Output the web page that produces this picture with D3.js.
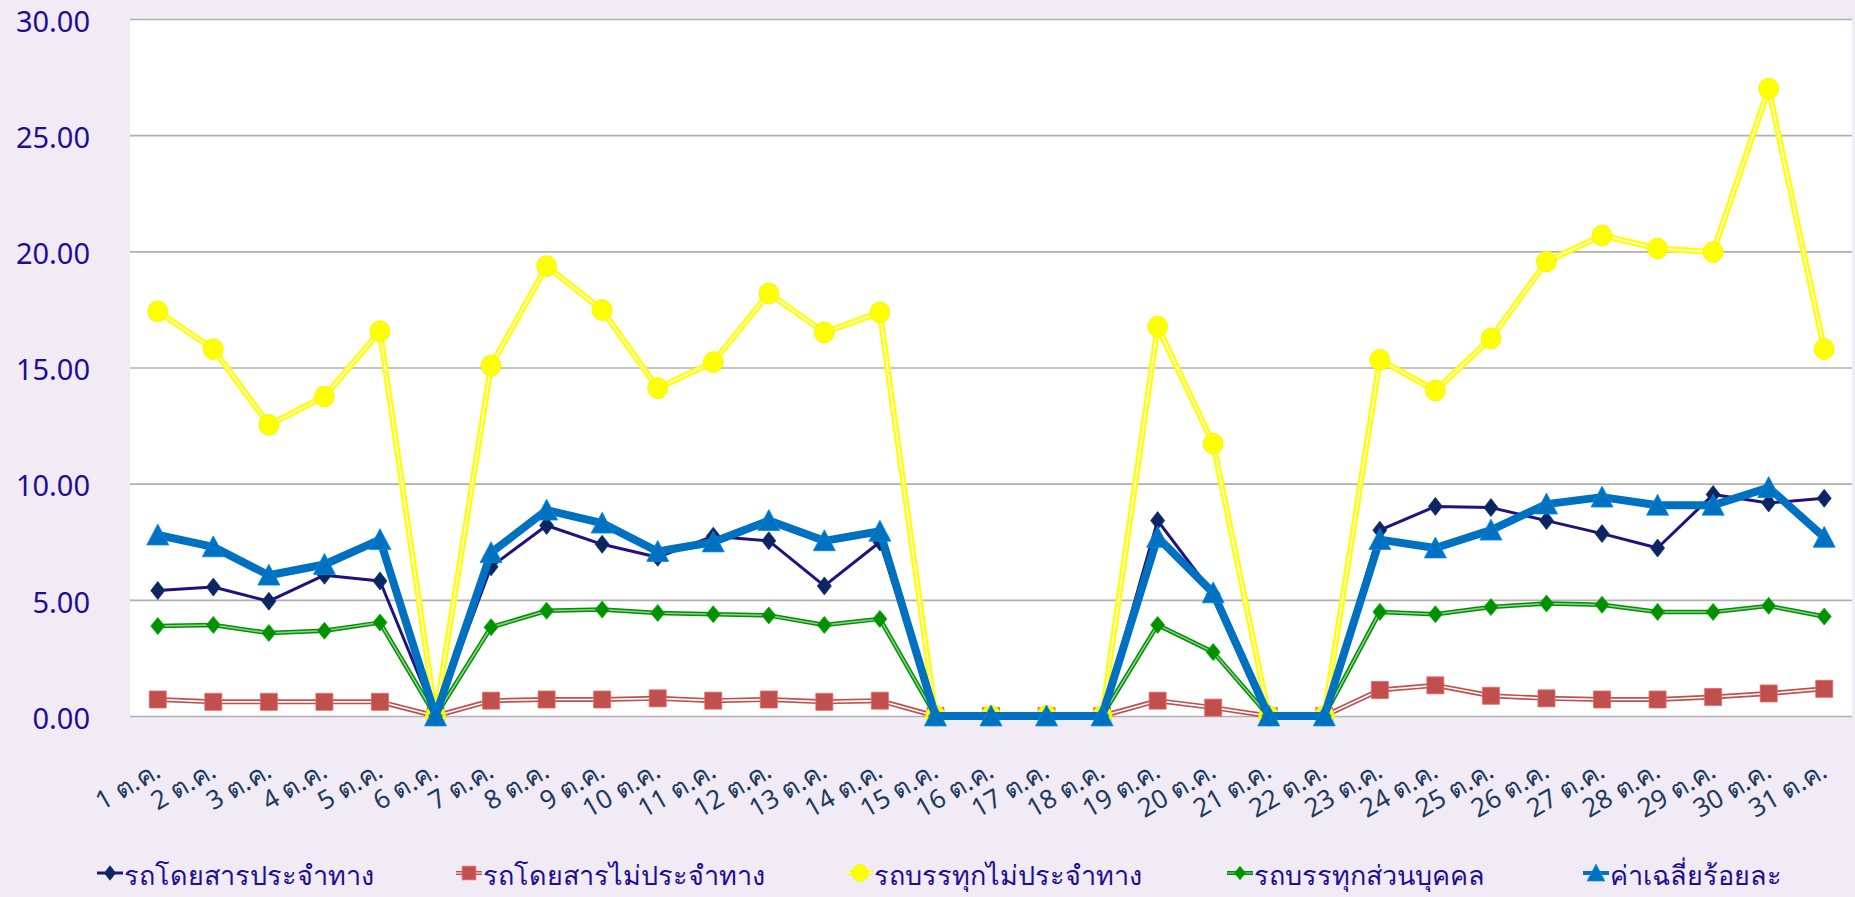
<!DOCTYPE html>
<html>
<head>
<meta charset="utf-8">
<script src="https://cdn.jsdelivr.net/npm/d3@7"></script>
<style>
  html, body { margin: 0; padding: 0; background: #f0ebf4; }
  svg { display: block; }
</style>
</head>
<body>
<svg id="chart" width="1855" height="897"></svg>
<script>
// วันที่ในเดือนตุลาคม
const days = ["1 ต.ค.","2 ต.ค.","3 ต.ค.","4 ต.ค.","5 ต.ค.","6 ต.ค.","7 ต.ค.","8 ต.ค.","9 ต.ค.","10 ต.ค.",
  "11 ต.ค.","12 ต.ค.","13 ต.ค.","14 ต.ค.","15 ต.ค.","16 ต.ค.","17 ต.ค.","18 ต.ค.","19 ต.ค.","20 ต.ค.",
  "21 ต.ค.","22 ต.ค.","23 ต.ค.","24 ต.ค.","25 ต.ค.","26 ต.ค.","27 ต.ค.","28 ต.ค.","29 ต.ค.","30 ต.ค.","31 ต.ค."];

const yTicks = [0, 5, 10, 15, 20, 25, 30];

// รถโดยสารประจำทาง
const busRoute = [5.40,5.55,4.94,6.06,5.81,0,6.42,8.20,7.39,6.83,7.74,7.54,5.60,7.49,0,0,0,0,8.41,5.25,0,0,8.00,9.02,8.97,8.41,7.85,7.23,9.53,9.17,9.37];
// รถโดยสารไม่ประจำทาง
const busCharter = [0.71,0.61,0.61,0.61,0.61,0,0.66,0.71,0.71,0.76,0.66,0.71,0.61,0.66,0,0,0,0,0.66,0.36,0,0,1.12,1.32,0.87,0.76,0.71,0.71,0.82,0.97,1.17];
// รถบรรทุกไม่ประจำทาง
const truckCharter = [17.42,15.79,12.53,13.75,16.56,0,15.08,19.36,17.47,14.11,15.23,18.19,16.51,17.37,0,0,0,0,16.76,11.72,0,0,15.33,14.01,16.25,19.56,20.68,20.12,19.97,27.00,15.79];
// รถบรรทุกส่วนบุคคล
const truckPrivate = [3.87,3.92,3.57,3.67,4.02,0,3.82,4.53,4.58,4.43,4.38,4.33,3.92,4.18,0,0,0,0,3.92,2.75,0,0,4.48,4.38,4.69,4.84,4.79,4.48,4.48,4.74,4.28];
// ค่าเฉลี่ยร้อยละ
const average = [7.79,7.28,6.06,6.52,7.59,0,7.03,8.86,8.30,7.08,7.49,8.41,7.54,7.95,0,0,0,0,7.69,5.30,0,0,7.59,7.23,8.00,9.12,9.42,9.07,9.07,9.83,7.69];

const seriesNames = ["รถโดยสารประจำทาง","รถโดยสารไม่ประจำทาง","รถบรรทุกไม่ประจำทาง","รถบรรทุกส่วนบุคคล","ค่าเฉลี่ยร้อยละ"];

const styles = [
  { values: busRoute,     line: "#22107e", width: 3,   inner: null,      innerW: 0,   marker: "diamond", fill: "#0b2660", size: [7, 9] },
  { values: busCharter,   line: "#c0504d", width: 5,   inner: "#ffffff", innerW: 1.6, marker: "square",  fill: "#c0504d", size: [8.5, 8.5] },
  { values: truckCharter, line: "#ffff00", width: 6,   inner: "#ffffff", innerW: 1.4, marker: "circle",  fill: "#ffff00", size: [10, 10.5] },
  { values: truckPrivate, line: "#009000", width: 4.5, inner: "#8fd08f", innerW: 1.5, marker: "diamond", fill: "#009000", size: [7, 8.5] },
  { values: average,      line: "#0070c0", width: 8,   inner: null,      innerW: 0,   marker: "triangle",fill: "#0070c0", size: [11, 11] }
];

const svg = d3.select("#chart");
const plot = { left: 130, right: 1852, top: 19, bottom: 716 };

svg.append("rect")
  .attr("x", plot.left).attr("y", plot.top)
  .attr("width", plot.right - plot.left).attr("height", plot.bottom - plot.top)
  .attr("fill", "#ffffff");

const x = d3.scalePoint().domain(days).range([plot.left, plot.right]).padding(0.5);
const y = d3.scaleLinear().domain([0, 30]).range([plot.bottom, plot.top]);

// เส้นกริดและป้ายแกน Y
const yAxis = svg.append("g")
  .attr("transform", `translate(${plot.left},0)`)
  .call(d3.axisLeft(y).tickValues(yTicks).tickFormat(d3.format(".2f"))
    .tickSize(-(plot.right - plot.left)).tickPadding(40));
yAxis.select(".domain").remove();
yAxis.selectAll(".tick line").attr("stroke", "#b0b0b0").attr("stroke-width", 1.6);
yAxis.selectAll(".tick text")
  .attr("fill", "#1e0f94")
  .attr("dy", "0.42em")
  .style("font-family", "'Noto Sans', 'DejaVu Sans', sans-serif")
  .style("font-size", "29px");

// ป้ายแกน X (วันที่)
const xAxis = svg.append("g")
  .attr("transform", `translate(0,${plot.bottom})`)
  .call(d3.axisBottom(x).tickSize(0).tickPadding(0));
xAxis.select(".domain").remove();
xAxis.selectAll(".tick text")
  .attr("fill", "#1f3a5f")
  .style("font-family", "'Noto Sans', 'DejaVu Sans', sans-serif")
  .style("font-size", "26px")
  .attr("text-anchor", "end")
  .attr("dy", null)
  .attr("y", 0)
  .attr("transform", "translate(4,60) rotate(-30)");

// สัญลักษณ์จุดข้อมูล
function markerPath(type, hw, hh) {
  if (type === "diamond") return `M0,${-hh}L${hw},0L0,${hh}L${-hw},0Z`;
  if (type === "square") return `M${-hw},${-hh}H${hw}V${hh}H${-hw}Z`;
  if (type === "triangle") return `M0,${-hh}L${hw},${hh * 0.9}L${-hw},${hh * 0.9}Z`;
  return null;
}

function drawMarker(g, s, cx, cy, scale) {
  const hw = s.size[0] * scale, hh = s.size[1] * scale;
  if (s.marker === "circle") {
    g.append("ellipse").attr("cx", cx).attr("cy", cy).attr("rx", hw).attr("ry", hh)
      .attr("fill", s.fill).attr("stroke", "#f2f200").attr("stroke-width", 0.8);
  } else {
    g.append("path").attr("d", markerPath(s.marker, hw, hh))
      .attr("transform", `translate(${cx},${cy})`)
      .attr("fill", s.fill).attr("stroke", d3.color(s.fill).brighter(0.6)).attr("stroke-width", 0.8);
  }
}

const lineGen = d3.line().x((d, i) => x(days[i])).y(d => y(d));

const seriesLayer = svg.append("g");
styles.forEach(s => {
  const g = seriesLayer.append("g");
  g.append("path").datum(s.values).attr("d", lineGen)
    .attr("fill", "none").attr("stroke", s.line).attr("stroke-width", s.width)
    .attr("stroke-linejoin", "round");
  if (s.inner) {
    g.append("path").datum(s.values).attr("d", lineGen)
      .attr("fill", "none").attr("stroke", s.inner).attr("stroke-width", s.innerW)
      .attr("stroke-linejoin", "round");
  }
  s.values.forEach((v, i) => drawMarker(g, s, x(days[i]), y(v), 1));
});

// คำอธิบายสัญลักษณ์
const legendX = [110, 469, 860, 1240, 1596];
const legend = svg.append("g");
styles.forEach((s, i) => {
  const cx = legendX[i], cy = 873;
  legend.append("line").attr("x1", cx - 13).attr("x2", cx + 13).attr("y1", cy).attr("y2", cy)
    .attr("stroke", s.line).attr("stroke-width", Math.min(s.width, 4));
  if (s.inner) {
    legend.append("line").attr("x1", cx - 13).attr("x2", cx + 13).attr("y1", cy).attr("y2", cy)
      .attr("stroke", s.inner).attr("stroke-width", 1);
  }
  drawMarker(legend, s, cx, cy, 0.8);
  legend.append("text")
    .attr("x", cx + 14).attr("y", 885)
    .attr("fill", "#1e0f94")
    .style("font-family", "'Noto Sans', 'DejaVu Sans', sans-serif")
    .style("font-size", "27px")
    .text(seriesNames[i]);
});
</script>
</body>
</html>
